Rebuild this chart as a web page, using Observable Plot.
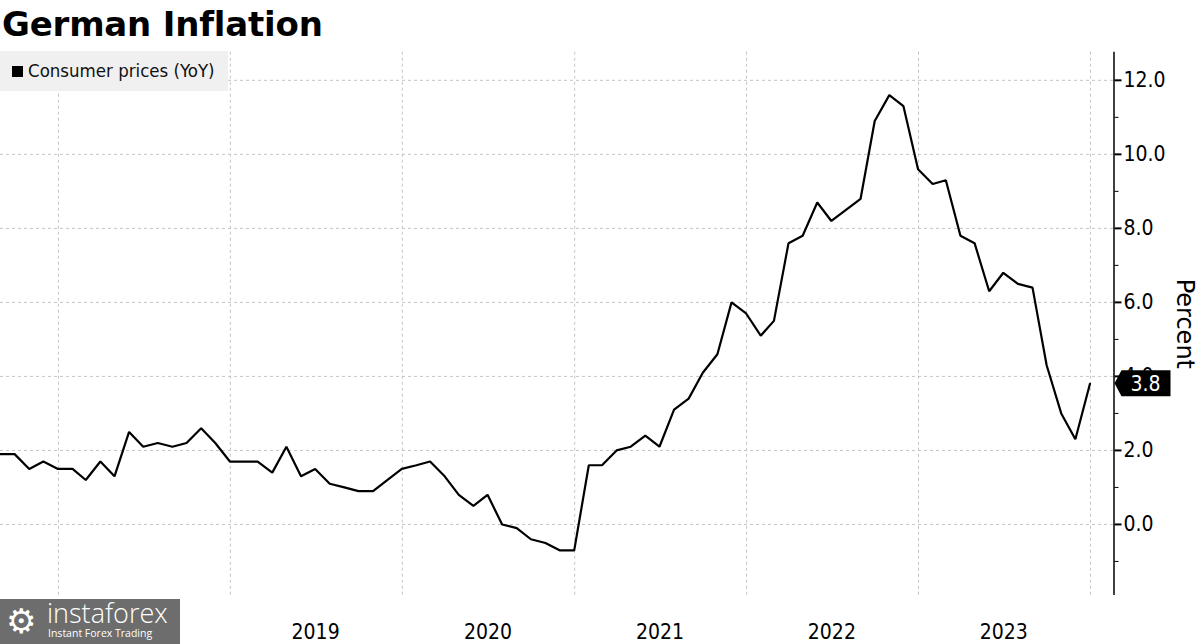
<!DOCTYPE html>
<html>
<head>
<meta charset="utf-8">
<script src="https://cdn.jsdelivr.net/npm/d3@7"></script>
<script src="https://cdn.jsdelivr.net/npm/@observablehq/plot@0.6"></script>
<style>
  body { margin: 0; background: #fff; }
  #wrap { position: relative; width: 1200px; height: 644px; overflow: hidden;
          font-family: "DejaVu Sans Condensed", "DejaVu Sans", sans-serif; }
  #chart { position: absolute; left: 0; top: 0; }
  #title { position: absolute; left: 2px; top: 4px; font: bold 34px/40px "DejaVu Sans", sans-serif;
           color: #000; white-space: nowrap; letter-spacing: -0.2px; }
  #legend { position: absolute; left: 0; top: 51px; width: 228px; height: 40px; background: #f0f0f0; }
  #legend .sw { position: absolute; left: 12px; top: 15px; width: 11px; height: 11px; background: #000; }
  #legend .lb { position: absolute; left: 28px; top: 8px; font-size: 18.5px; line-height: 24px; color: #111; white-space: nowrap; }
  #wm { position: absolute; left: 0; top: 599px; width: 180px; height: 45px; background: #6d6d6d; color: #fff;
        font-family: "DejaVu Sans", sans-serif; overflow: hidden; }
  #wm .ic { position: absolute; left: 6px; top: 2px; font-size: 34px; line-height: 40px; }
  #wm .t1 { position: absolute; left: 47px; top: 1px; font-size: 27px; line-height: 26px; font-family: "Open Sans", sans-serif; font-weight: 300; }
  #wm .t2 { position: absolute; left: 48px; top: 28px; font-size: 10.5px; line-height: 13px; font-family: "Open Sans", sans-serif; }
</style>
</head>
<body>
<div id="wrap">
  <div id="chart"></div>
  <div id="title">German Inflation</div>
  <div id="legend"><div class="sw"></div><div class="lb">Consumer prices (YoY)</div></div>
  <div id="wm"><div class="ic">⚙</div><div class="t1">instaforex</div><div class="t2">Instant Forex Trading</div></div>
</div>
<script>
// ---- Data ----
const months = [
  "2017-08","2017-09","2017-10","2017-11","2017-12",
  "2018-01","2018-02","2018-03","2018-04","2018-05","2018-06","2018-07","2018-08","2018-09","2018-10","2018-11","2018-12",
  "2019-01","2019-02","2019-03","2019-04","2019-05","2019-06","2019-07","2019-08","2019-09","2019-10","2019-11","2019-12",
  "2020-01","2020-02","2020-03","2020-04","2020-05","2020-06","2020-07","2020-08","2020-09","2020-10","2020-11","2020-12",
  "2021-01","2021-02","2021-03","2021-04","2021-05","2021-06","2021-07","2021-08","2021-09","2021-10","2021-11","2021-12",
  "2022-01","2022-02","2022-03","2022-04","2022-05","2022-06","2022-07","2022-08","2022-09","2022-10","2022-11","2022-12",
  "2023-01","2023-02","2023-03","2023-04","2023-05","2023-06","2023-07","2023-08","2023-09","2023-10","2023-11","2023-12"
];
const consumerPricesYoY = [
  1.9, 1.9, 1.5, 1.7, 1.5,
  1.5, 1.2, 1.7, 1.3, 2.5, 2.1, 2.2, 2.1, 2.2, 2.6, 2.2, 1.7,
  1.7, 1.7, 1.4, 2.1, 1.3, 1.5, 1.1, 1.0, 0.9, 0.9, 1.2, 1.5,
  1.6, 1.7, 1.3, 0.8, 0.5, 0.8, 0.0, -0.1, -0.4, -0.5, -0.7, -0.7,
  1.6, 1.6, 2.0, 2.1, 2.4, 2.1, 3.1, 3.4, 4.1, 4.6, 6.0, 5.7,
  5.1, 5.5, 7.6, 7.8, 8.7, 8.2, 8.5, 8.8, 10.9, 11.6, 11.3, 9.6,
  9.2, 9.3, 7.8, 7.6, 6.3, 6.8, 6.5, 6.4, 4.3, 3.0, 2.3, 3.8
];
const gridYears = [2018, 2019, 2020, 2021, 2022, 2023, 2024];
const yearLabels = [2019, 2020, 2021, 2022, 2023];
const yGridValues = [0, 2, 4, 6, 8, 10, 12];
const yMinorValues = [-1, 1, 3, 5, 7, 9, 11];
const seriesName = "Consumer prices (YoY)";
const yAxisTitle = "Percent";

// ---- Derived tables ----
const monthEnd = s => { const [y, m] = s.split("-").map(Number); return new Date(Date.UTC(y, m, 0)); };
const series = months.map((m, i) => ({ date: monthEnd(m), value: consumerPricesYoY[i] }));
const yearStarts = gridYears.map(y => new Date(Date.UTC(y, 0, 1)));
const yearMids = yearLabels.map(y => new Date(Date.UTC(y, 6, 1)));
const xStart = series[0].date;
const xEnd = new Date(Date.UTC(2024, 1, 20));
const lastValue = consumerPricesYoY[consumerPricesYoY.length - 1];
const FONT = '"DejaVu Sans Condensed", "DejaVu Sans", sans-serif';
const fmt = d3.format(".1f");

function lastValueTag(index, scales, values, dimensions) {
  const ax = dimensions.width - dimensions.marginRight;
  const y = scales.y(lastValue);
  const g = d3.create("svg:g");
  g.append("path")
    .attr("d", `M${ax + 1},${y} L${ax + 8},${y - 13} L${ax + 57},${y - 13} L${ax + 57},${y + 13} L${ax + 8},${y + 13} Z`)
    .attr("fill", "#000");
  g.append("text")
    .attr("x", ax + 32).attr("y", y).attr("dy", "0.36em")
    .attr("text-anchor", "middle").attr("fill", "#fff")
    .attr("font-family", FONT).attr("font-size", 21)
    .text(fmt(lastValue));
  return g.node();
}

const chart = Plot.plot({
  width: 1200,
  height: 644,
  marginTop: 51.7,
  marginBottom: 49,
  marginLeft: 0,
  marginRight: 86.5,
  style: { fontFamily: FONT, fontSize: "21px", background: "transparent", color: "#000", overflow: "visible" },
  x: { type: "utc", domain: [xStart, xEnd] },
  y: { domain: [-1.92, 12.76] },
  marks: [
    Plot.ruleY(yGridValues, { stroke: "#c4c4c4", strokeWidth: 1, strokeDasharray: "3,3" }),
    Plot.ruleX(yearStarts, { stroke: "#c4c4c4", strokeWidth: 1, strokeDasharray: "3,3" }),
    Plot.line(series, { x: "date", y: "value", stroke: "#000", strokeWidth: 2.2, strokeLinejoin: "miter" }),
    Plot.ruleX([xEnd], { stroke: "#000", strokeWidth: 1.5 }),
    Plot.axisY(yMinorValues, { anchor: "right", tickSize: 4, tickFormat: () => "", label: null, stroke: "#000" }),
    Plot.axisY(yGridValues, { anchor: "right", tickSize: 7, tickPadding: 2.5, tickFormat: fmt, label: null, fontSize: 21, strokeWidth: 2, stroke: "#000", fill: "#000" }),
    Plot.axisX(yearMids, { anchor: "bottom", tickSize: 0, tickPadding: 29, tickFormat: d => String(d.getUTCFullYear()), label: null, fontSize: 21, fill: "#000" }),
    Plot.text([yAxisTitle], { frameAnchor: "right", rotate: 90, dx: 71, textAnchor: "middle", lineAnchor: "middle", fontSize: 24, fontFamily: '"DejaVu Sans", sans-serif', fill: "#000" }),
    lastValueTag
  ]
});
document.getElementById("chart").appendChild(chart);
</script>
</body>
</html>
